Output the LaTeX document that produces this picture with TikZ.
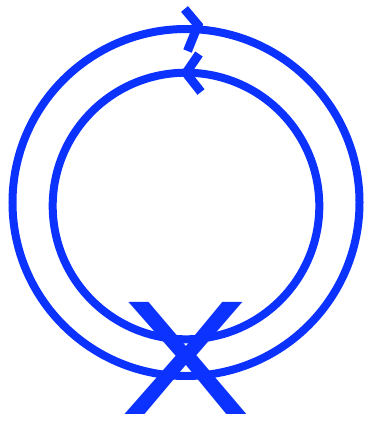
\documentclass[tikz,border=0pt]{standalone}
\usepackage{fontspec}
\setmainfont{Liberation Sans}
\definecolor{lineblue}{RGB}{12,50,255}
\begin{document}
\begin{tikzpicture}[x=1pt,y=-1pt,
  ring/.style={draw=lineblue,line width=8pt},
  chev/.style={draw=lineblue,line width=9pt,line cap=butt,line join=miter,miter limit=10}]
\useasboundingbox (0,0) rectangle (368,422);
\draw[ring] (186,202.5) circle[radius=173.5];
\draw[ring] (186,206) circle[radius=133.3];
\draw[chev] (184.5,9) -- (198,25) -- (187.5,51);
\draw[chev] (199,54) -- (186,73) -- (201,92);
\node[text=lineblue,font=\fontsize{163}{163}\selectfont,inner sep=0pt,anchor=center,xscale=1.2] (bigx) at (186,358.5) {X};
\end{tikzpicture}
\end{document}
